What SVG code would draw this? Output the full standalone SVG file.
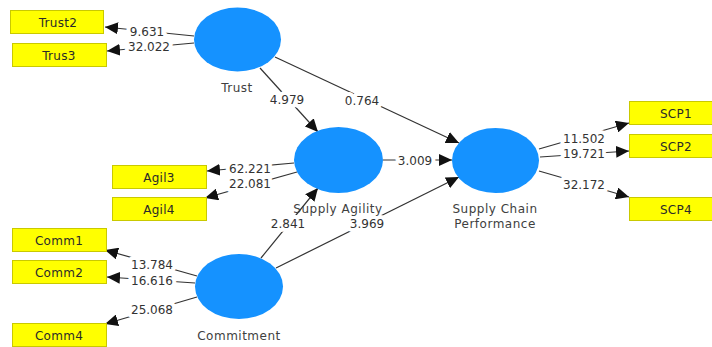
<svg xmlns="http://www.w3.org/2000/svg" width="712" height="347" viewBox="0 0 712 347">
<defs>
<marker id="arr" markerUnits="userSpaceOnUse" markerWidth="14" markerHeight="12" viewBox="0 0 14 12" refX="13" refY="6" orient="auto">
<path d="M0,0 L13,6 L0,12 Z" fill="#111"/>
</marker>
<style>
.lv{fill:#1592FF;}
.ind{fill:#FFFF00;stroke:#C9C900;stroke-width:1;}
.it{font-family:"DejaVu Sans","Noto Sans",sans-serif;font-size:12px;fill:#2a2a2a;text-anchor:middle;letter-spacing:0.3px;}
.nl{font-family:"DejaVu Sans","Noto Sans",sans-serif;font-size:12px;fill:#404040;text-anchor:middle;letter-spacing:0.5px;}
.c{stroke:#333;stroke-width:1.2;fill:none;marker-end:url(#arr);}
.w{font-family:"DejaVu Sans","Noto Sans",sans-serif;font-size:12px;fill:#333;text-anchor:middle;stroke:#fff;stroke-width:8;stroke-linejoin:round;paint-order:stroke;}
</style>
</defs>
<rect width="712" height="347" fill="#fff"/>
<g id="connectors">
<line class="c" x1="194" y1="36" x2="105" y2="27"/>
<line class="c" x1="194" y1="43" x2="107" y2="51"/>
<line class="c" x1="260" y1="68" x2="318" y2="132"/>
<line class="c" x1="275" y1="57" x2="459" y2="143"/>
<line class="c" x1="294" y1="163" x2="207" y2="171"/>
<line class="c" x1="297" y1="172" x2="205" y2="198"/>
<line class="c" x1="383" y1="160" x2="452" y2="160"/>
<line class="c" x1="261" y1="258" x2="318" y2="188"/>
<line class="c" x1="276" y1="268" x2="459" y2="177"/>
<line class="c" x1="197" y1="276" x2="105" y2="250"/>
<line class="c" x1="195" y1="283" x2="107" y2="277"/>
<line class="c" x1="197" y1="297" x2="105" y2="324"/>
<line class="c" x1="539" y1="149" x2="629" y2="123"/>
<line class="c" x1="540" y1="157" x2="629" y2="151"/>
<line class="c" x1="539" y1="171" x2="629" y2="197"/>
<text class="w" x="147" y="35.5">9.631</text>
<text class="w" x="149" y="50.5">32.022</text>
<text class="w" x="287" y="103.5">4.979</text>
<text class="w" x="362" y="104.5">0.764</text>
<text class="w" x="250" y="172.5">62.221</text>
<text class="w" x="250" y="187.5">22.081</text>
<text class="w" x="415" y="164.5">3.009</text>
<text class="w" x="288" y="228">2.841</text>
<text class="w" x="367" y="228">3.969</text>
<text class="w" x="152" y="268.5">13.784</text>
<text class="w" x="152" y="284.5">16.616</text>
<text class="w" x="152" y="313.5">25.068</text>
<text class="w" x="584" y="142.5">11.502</text>
<text class="w" x="584" y="157.5">19.721</text>
<text class="w" x="584" y="188.5">32.172</text>
</g>
<g id="Trust">
<ellipse class="lv" cx="237.5" cy="39.5" rx="43.5" ry="32"/>
<text class="nl" x="237" y="92">Trust</text>
</g>
<g id="SupplyAgility">
<ellipse class="lv" cx="338.5" cy="160" rx="44.5" ry="33"/>
<text class="nl" x="338" y="213">Supply Agility</text>
</g>
<g id="Commitment">
<ellipse class="lv" cx="239" cy="286.5" rx="44" ry="32.5"/>
<text class="nl" x="239" y="340">Commitment</text>
</g>
<g id="SupplyChainPerformance">
<ellipse class="lv" cx="495.5" cy="160.5" rx="43.5" ry="32.5"/>
<text class="nl" x="495" y="213">Supply Chain</text>
<text class="nl" x="495" y="228">Performance</text>
</g>
<g id="Trust2"><rect class="ind" x="10.5" y="10.5" width="93" height="23"/><text class="it" x="58" y="26.5">Trust2</text></g>
<g id="Trus3"><rect class="ind" x="12.5" y="43.5" width="94" height="23"/><text class="it" x="59" y="59.5">Trus3</text></g>
<g id="Agil3"><rect class="ind" x="112.5" y="165.5" width="94" height="23"/><text class="it" x="159" y="181.5">Agil3</text></g>
<g id="Agil4"><rect class="ind" x="112.5" y="197.5" width="94" height="23"/><text class="it" x="159" y="213.5">Agil4</text></g>
<g id="Comm1"><rect class="ind" x="12.5" y="228.5" width="94" height="23"/><text class="it" x="59" y="244.5">Comm1</text></g>
<g id="Comm2"><rect class="ind" x="12.5" y="260.5" width="94" height="23"/><text class="it" x="59" y="276.5">Comm2</text></g>
<g id="Comm4"><rect class="ind" x="12.5" y="323.5" width="94" height="23"/><text class="it" x="59" y="339.5">Comm4</text></g>
<g id="SCP1"><rect class="ind" x="629.5" y="101.5" width="94" height="23"/><text class="it" x="676" y="117.5">SCP1</text></g>
<g id="SCP2"><rect class="ind" x="629.5" y="134.5" width="94" height="23"/><text class="it" x="676" y="150.5">SCP2</text></g>
<g id="SCP4"><rect class="ind" x="629.5" y="197.5" width="94" height="23"/><text class="it" x="676" y="213.5">SCP4</text></g>
</svg>
